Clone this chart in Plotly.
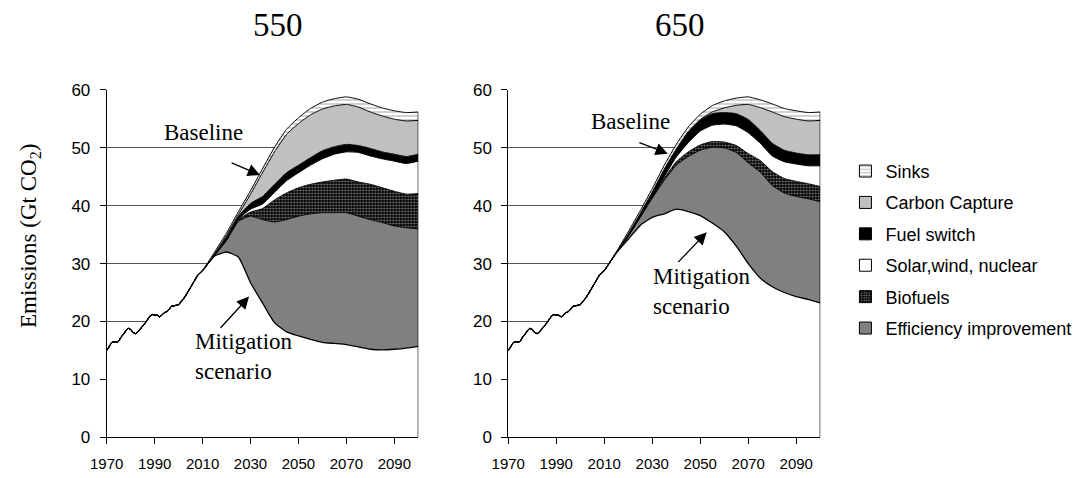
import plotly.graph_objects as go

# ---------------- data ----------------
hist_years = [1970, 1971, 1972, 1973, 1974, 1975, 1976, 1977, 1978, 1979,
              1980, 1981, 1982, 1983, 1984, 1985, 1986, 1987, 1988, 1989,
              1990, 1991, 1992, 1993, 1994, 1995, 1996, 1997, 1998, 1999,
              2000, 2001, 2002, 2003, 2004, 2005, 2006, 2007, 2008]
hist_emissions = [15.0, 15.6, 16.3, 16.5, 16.4, 16.6, 17.3, 17.8, 18.4, 18.8,
                  18.6, 18.1, 17.9, 18.2, 18.7, 19.2, 19.7, 20.3, 20.9, 21.2,
                  21.1, 21.1, 20.8, 21.1, 21.5, 21.7, 22.1, 22.6, 22.7, 22.8,
                  22.9, 23.4, 23.9, 24.5, 25.2, 25.9, 26.6, 27.3, 28.0]

future_years = [2010, 2015, 2020, 2025, 2030, 2035, 2040, 2045, 2050, 2055,
                2060, 2065, 2070, 2075, 2080, 2085, 2090, 2095, 2100]

# 550 scenario
mitigation_550 = [28.8, 31.3, 32.0, 31.1, 26.7, 23.2, 19.8, 18.2, 17.5, 16.9,
                  16.4, 16.2, 16.0, 15.6, 15.2, 15.1, 15.2, 15.4, 15.7]
efficiency_550 = [0, 0.1, 2.0, 6.2, 11.5, 14.4, 17.4, 19.4, 20.7, 21.7,
                  22.4, 22.6, 22.8, 22.6, 22.4, 22.0, 21.3, 20.8, 20.3]
biofuels_550 = [0, 0.05, 0.1, 0.3, 0.7, 1.9, 3.8, 4.6, 4.9, 5.1,
                5.3, 5.6, 5.8, 5.9, 6.1, 6.0, 6.0, 5.8, 6.1]
solar_550 = [0, 0.0, 0.05, 0.1, 0.5, 0.8, 1.3, 2.1, 2.6, 3.3,
             4.0, 4.5, 4.7, 5.1, 4.9, 5.0, 5.2, 5.3, 5.6]
fuelswitch_550 = [0, 0.2, 0.45, 0.5, 1.0, 1.3, 1.4, 1.4, 1.3, 1.3,
                  1.4, 1.3, 1.3, 1.2, 1.3, 1.2, 1.2, 1.2, 1.2]
capture_550 = [0, 0.05, 0.3, 0.3, 1.6, 4.1, 5.6, 6.6, 7.2, 7.4,
               7.2, 7.05, 6.9, 6.65, 6.3, 6.2, 6.05, 6.15, 5.85]
sinks_550 = [0, 0.3, 0.4, 0.5, 0.6, 0.7, 0.8, 0.9, 1.0, 1.1,
             1.2, 1.25, 1.3, 1.35, 1.4, 1.4, 1.45, 1.45, 1.45]

# 650 scenario
mitigation_650 = [28.8, 31.8, 34.2, 36.6, 38.0, 38.6, 39.4, 39.0, 38.3, 37.0,
                  35.5, 33.0, 30.0, 27.5, 26.0, 25.0, 24.3, 23.8, 23.2]
efficiency_650 = [0, 0.1, 0.5, 1.4, 3.3, 5.8, 7.6, 9.5, 11.3, 13.1,
                  14.5, 16.2, 17.4, 18.3, 17.5, 17.2, 17.3, 17.4, 17.5]
biofuels_650 = [0, 0.0, 0.1, 0.15, 0.2, 0.3, 0.6, 0.8, 0.9, 1.0,
                1.0, 1.2, 1.6, 2.0, 2.4, 2.5, 2.6, 2.6, 2.6]
solar_650 = [0, 0, 0, 0, 0.05, 0.3, 0.8, 1.6, 2.4, 2.8,
             3.1, 3.4, 3.6, 3.0, 2.7, 2.9, 3.0, 3.1, 3.6]
fuelswitch_650 = [0, 0.0, 0.3, 0.5, 0.8, 1.3, 1.4, 1.9, 1.9, 2.0,
                  2.0, 2.1, 2.3, 2.2, 2.2, 2.0, 1.9, 1.9, 1.9]
capture_650 = [0, 0, 0, 0, 0, 0, 0, 0, 0.1, 0.3,
               0.8, 1.45, 2.6, 3.95, 5.4, 5.8, 5.85, 5.85, 5.95]
sinks_650 = [0, 0.1, 0.4, 0.5, 0.6, 0.7, 0.8, 0.8, 0.9, 1.1,
             1.2, 1.25, 1.3, 1.35, 1.4, 1.4, 1.45, 1.45, 1.45]

panel_titles = ["550", "650"]
legend_names = ["Sinks", "Carbon Capture", "Fuel switch",
                "Solar,wind, nuclear", "Biofuels", "Efficiency improvement"]
x_tick_vals = [1970, 1990, 2010, 2030, 2050, 2070, 2090]
y_tick_vals = [0, 10, 20, 30, 40, 50, 60]

# ---------------- styles ----------------
styles = {
    "Efficiency improvement": dict(fillcolor="#808080", pattern=None),
    "Biofuels": dict(fillcolor="#000000",
                     pattern=dict(shape=".", fgcolor="#ffffff", bgcolor="#000000",
                                  size=3, solidity=0.35)),
    "Solar,wind, nuclear": dict(fillcolor="#ffffff", pattern=None),
    "Fuel switch": dict(fillcolor="#000000", pattern=None),
    "Carbon Capture": dict(fillcolor="#c0c0c0", pattern=None),
    "Sinks": dict(fillcolor="#ffffff",
                  pattern=dict(shape="-", fgcolor="#8a8a8a", bgcolor="#ffffff",
                               size=4, solidity=0.4)),
}

fig = go.Figure()

panels = [
    dict(ax="x", ay="y", mit=mitigation_550,
         wedges=[("Efficiency improvement", efficiency_550), ("Biofuels", biofuels_550),
                 ("Solar,wind, nuclear", solar_550), ("Fuel switch", fuelswitch_550),
                 ("Carbon Capture", capture_550), ("Sinks", sinks_550)]),
    dict(ax="x2", ay="y2", mit=mitigation_650,
         wedges=[("Efficiency improvement", efficiency_650), ("Biofuels", biofuels_650),
                 ("Solar,wind, nuclear", solar_650), ("Fuel switch", fuelswitch_650),
                 ("Carbon Capture", capture_650), ("Sinks", sinks_650)]),
]

for i, p in enumerate(panels):
    grp = "stack%d" % i
    fig.add_trace(go.Scatter(
        x=hist_years + future_years, y=hist_emissions + p["mit"],
        xaxis=p["ax"], yaxis=p["ay"], stackgroup=grp, mode="lines",
        line=dict(color="black", width=1.3, shape="spline", smoothing=0.5),
        fillcolor="#ffffff", showlegend=False, hoverinfo="skip"))
    for name, vals in p["wedges"]:
        st = styles[name]
        kw = {}
        if st["pattern"] is not None:
            kw["fillpattern"] = st["pattern"]
        fig.add_trace(go.Scatter(
            x=future_years, y=vals, xaxis=p["ax"], yaxis=p["ay"],
            stackgroup=grp, mode="lines",
            line=dict(color="black", width=1, shape="spline", smoothing=0.5),
            fillcolor=st["fillcolor"], showlegend=False, hoverinfo="skip", **kw))
    # closing right edge of the stacked area
    total_end = p["mit"][-1] + sum(v[-1] for _, v in p["wedges"])
    fig.add_trace(go.Scatter(
        x=[future_years[-1], future_years[-1]], y=[0, total_end],
        xaxis=p["ax"], yaxis=p["ay"], mode="lines",
        line=dict(color="black", width=1.2), showlegend=False, hoverinfo="skip"))

# legend entries (bar swatches)
for name in legend_names:
    st = styles[name]
    marker = dict(color=st["fillcolor"], line=dict(color="black", width=1))
    if st["pattern"] is not None:
        marker["pattern"] = st["pattern"]
    fig.add_trace(go.Bar(x=[None], y=[None], name=name, marker=marker,
                         legendgroup=name, showlegend=True))

axis_common_x = dict(range=[1970, 2100], tickvals=x_tick_vals, showline=True,
                     linecolor="black", linewidth=1, ticks="outside", ticklen=6,
                     tickcolor="black", showgrid=False, zeroline=False,
                     automargin=False,
                     tickfont=dict(family="Liberation Sans Narrow, Liberation Sans, Arial",
                                   size=15, color="black"),
                     ticklabelstandoff=7, fixedrange=True)
axis_common_y = dict(range=[0, 60], tickvals=y_tick_vals, showline=True,
                     linecolor="black", linewidth=1, ticks="outside", ticklen=6,
                     tickcolor="black", showgrid=True, gridcolor="#555555",
                     gridwidth=1, zeroline=False, automargin=False,
                     tickfont=dict(family="Liberation Sans, Arial", size=17, color="black"),
                     ticklabelstandoff=6, fixedrange=True)

ydom = [0.1021, 0.8285]
fig.update_layout(
    width=1080, height=478, autosize=False,
    margin=dict(l=0, r=0, t=0, b=0, pad=0, autoexpand=False),
    paper_bgcolor="white", plot_bgcolor="white",
    xaxis=dict(domain=[0.0914, 0.3799], anchor="y", **axis_common_x),
    yaxis=dict(domain=ydom, anchor="x", **axis_common_y),
    xaxis2=dict(domain=[0.4632, 0.7521], anchor="y2", **axis_common_x),
    yaxis2=dict(domain=ydom, anchor="x2", **axis_common_y),
    showlegend=True,
    legend=dict(x=0.7754, y=0.697, xanchor="left", yanchor="top",
                traceorder="grouped", tracegroupgap=5,
                font=dict(family="Liberation Sans, Arial", size=18, color="black"),
                bgcolor="rgba(0,0,0,0)", itemclick=False, itemdoubleclick=False),
)

serif = "Liberation Serif, Times New Roman, serif"
ann = []
# panel titles
ann.append(dict(text=panel_titles[0], x=270 / 1080, y=1 - 17 / 478, xref="paper", yref="paper",
                xanchor="center", yanchor="middle",
                showarrow=False, font=dict(family=serif, size=33, color="black")))
ann.append(dict(text=panel_titles[1], x=672 / 1080, y=1 - 17 / 478, xref="paper", yref="paper",
                xanchor="center", yanchor="middle",
                showarrow=False, font=dict(family=serif, size=33, color="black")))
# y axis title
ann.append(dict(text="Emissions (Gt CO<sub>2</sub>)", x=22 / 1080, y=1 - 228 / 478,
                xref="paper", yref="paper", textangle=-90, showarrow=False,
                xanchor="center", yanchor="middle",
                font=dict(family=serif, size=23, color="black")))

labels = [
    # (xaxis, yaxis, baseline text pos, baseline arrow tail, head, mitig text pos, arrow tail, head)
    ("x", "y", (2010.2, 52.7), (2021.5, 47.5), (2034.0, 45.3),
     (2006.0, 13.9), (2016.9, 18.6), (2029.4, 24.3)),
    ("x2", "y2", (2021.1, 54.5), (2024.0, 51.0), (2036.5, 49.0),
     (2029.4, 25.1), (2040.2, 30.0), (2052.7, 35.4)),
]
for xa, ya, bt, btail, bhead, mt, mtail, mhead in labels:
    ann.append(dict(text="Baseline", x=bt[0], y=bt[1], xref=xa, yref=ya, showarrow=False,
                    xanchor="center", yanchor="middle",
                    font=dict(family=serif, size=23, color="black")))
    ann.append(dict(text="", x=bhead[0], y=bhead[1], ax=btail[0], ay=btail[1],
                    xref=xa, yref=ya, axref=xa, ayref=ya, showarrow=True,
                    arrowhead=2, arrowsize=1.9, arrowwidth=1.3, arrowcolor="black"))
    ann.append(dict(text="Mitigation<br>scenario", x=mt[0], y=mt[1], xref=xa, yref=ya,
                    xanchor="left", yanchor="middle", align="left", showarrow=False,
                    font=dict(family=serif, size=23, color="black")))
    ann.append(dict(text="", x=mhead[0], y=mhead[1], ax=mtail[0], ay=mtail[1],
                    xref=xa, yref=ya, axref=xa, ayref=ya, showarrow=True,
                    arrowhead=2, arrowsize=1.9, arrowwidth=1.3, arrowcolor="black"))

fig.update_layout(annotations=ann)
fig.write_html("out.html")
